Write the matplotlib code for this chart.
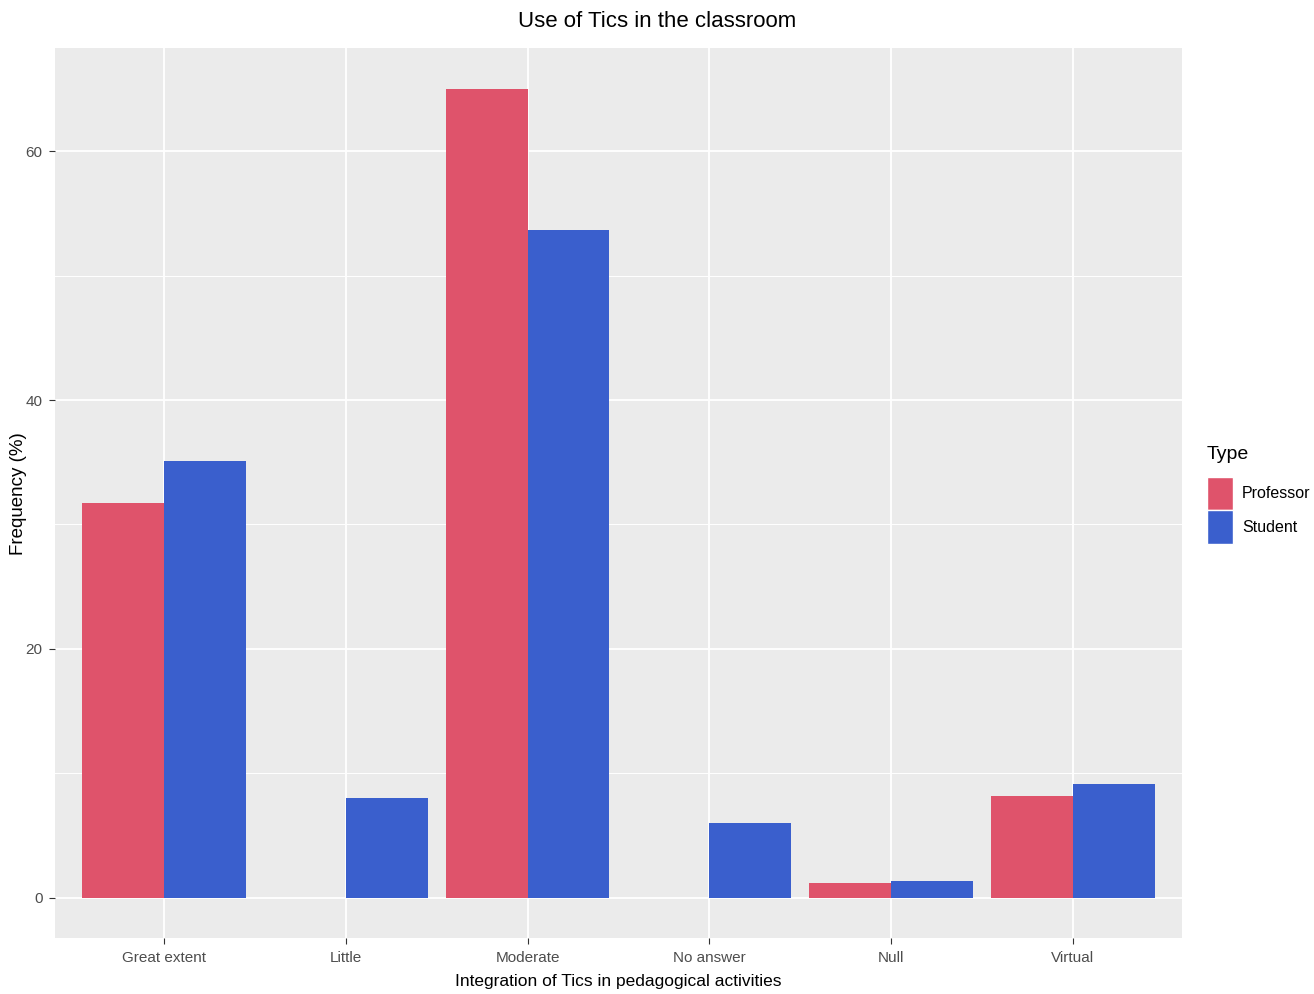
import numpy as np
import matplotlib.pyplot as plt
from matplotlib.patches import Patch

plt.rcParams['font.family'] = ['Liberation Sans', 'DejaVu Sans']

categories = ["Great extent", "Little", "Moderate", "No answer", "Null", "Virtual"]
professor = [31.7, 0, 65.0, 0, 1.2, 8.2]
student = [35.1, 8.0, 53.7, 6.0, 1.3, 9.1]
series = ["Professor", "Student"]
colors = ["#DF536B", "#3A5FCD"]

fig = plt.figure(figsize=(13.14, 9.94), dpi=100)
ax = fig.add_axes([55 / 1314, 1 - 938 / 994, (1182 - 55) / 1314, (938 - 48) / 994])
ax.set_facecolor("#EBEBEB")

x = np.arange(len(categories))
w = 0.45
ax.bar(x - w / 2, professor, width=w, color=colors[0], zorder=3)
ax.bar(x + w / 2, student, width=w, color=colors[1], zorder=3)

ax.set_xlim(-0.6, 5.6)
ax.set_ylim(-3.25, 68.3)
ax.set_yticks([0, 20, 40, 60])
ax.set_yticks([10, 30, 50], minor=True)
ax.set_xticks(x)
ax.set_xticklabels(categories)
ax.grid(which="major", color="white", linewidth=1.3, zorder=0)
ax.grid(which="minor", axis="y", color="white", linewidth=0.7, zorder=0)
ax.tick_params(which="major", length=4, color="#333333", labelcolor="#4D4D4D", labelsize=11, pad=5)
ax.tick_params(which="minor", length=0)
for s in ax.spines.values():
    s.set_visible(False)

ax.set_xlabel("Integration of Tics in pedagogical activities", fontsize=12.5, labelpad=7)
fig.text(19 / 1314, 1 - 494 / 994, "Frequency (%)", rotation=90, fontsize=13.5,
         ha="center", va="center")
fig.suptitle("Use of Tics in the classroom", fontsize=16, y=1 - 11 / 994, va="top")

handles = [Patch(facecolor=c, edgecolor="white", label=s) for c, s in zip(colors, series)]
leg = fig.legend(handles=handles, title="Type", loc="upper left", bbox_to_anchor=(1207 / 1314, 1 - 446 / 994),
                 frameon=False, fontsize=11.5, title_fontsize=14, handlelength=1.6, handleheight=2.85,
                 handletextpad=0.6, labelspacing=0.0, borderpad=0, borderaxespad=0)
leg._legend_box.align = "left"
leg._legend_box.sep = 10

plt.savefig("out.png", dpi=100)
